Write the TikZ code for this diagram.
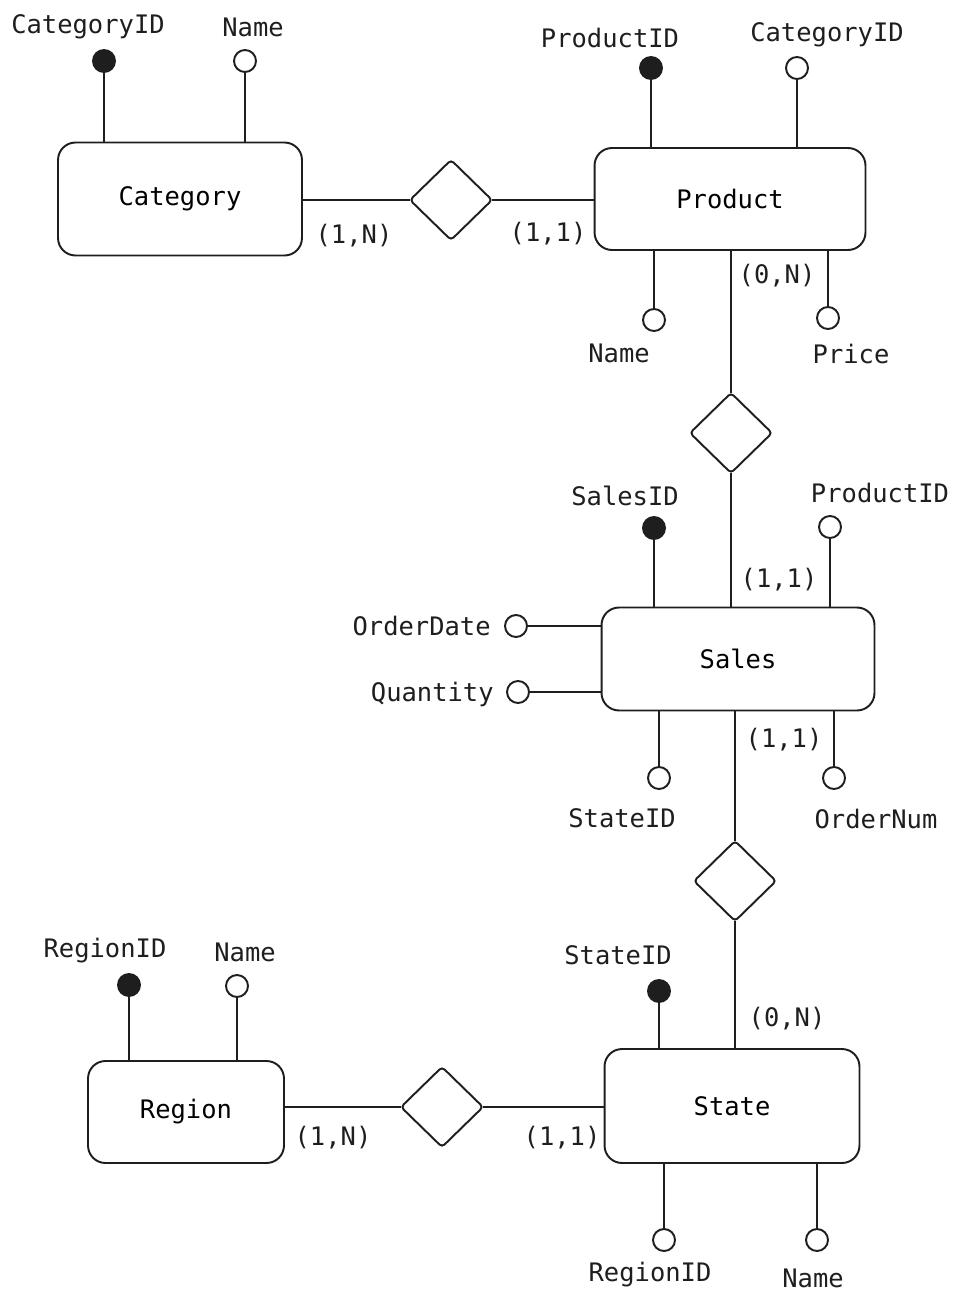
\documentclass[tikz,border=0pt]{standalone}
\usepackage{fontspec}
\setmainfont{DejaVu Sans Mono}
\usetikzlibrary{shapes.geometric}
\definecolor{ink}{HTML}{1E1E1E}

\tikzset{
  entity/.style={draw=ink, line width=1.1pt, rounded corners=0.35cm, inner sep=0pt, outer sep=0pt},
  relation/.style={diamond, draw=ink, line width=1.1pt, rounded corners=2pt, minimum width=1.64cm, minimum height=1.6cm, inner sep=0pt, outer sep=0pt},
  keyattr/.style={circle, draw=ink, fill=ink, line width=1.1pt, minimum size=0.44cm, inner sep=0pt, outer sep=0pt},
  attr/.style={circle, draw=ink, fill=white, line width=1.1pt, minimum size=0.44cm, inner sep=0pt, outer sep=0pt},
  lbl/.style={text=ink, inner sep=0pt},
  link/.style={draw=ink, line width=1.1pt},
}

\begin{document}
\begin{tikzpicture}[x=0.02cm, y=-0.02cm, font=\fontsize{14.5}{17}\selectfont]
  \useasboundingbox (0,0) rectangle (960,1307);

  % Entities
  \node[entity, minimum width=4.88cm, minimum height=2.26cm] (cat) at (180,199) {Category};
  \node[entity, minimum width=5.42cm, minimum height=2.04cm] (prod) at (730,199) {Product};
  \node[entity, minimum width=5.46cm, minimum height=2.06cm] (sales) at (738,659) {Sales};
  \node[entity, minimum width=5.10cm, minimum height=2.28cm] (state) at (732,1106) {State};
  \node[entity, minimum width=3.92cm, minimum height=2.04cm] (region) at (186,1112) {Region};

  % Relationships
  \node[relation] (catprod) at (451,200) {};
  \node[relation] (prodsales) at (731,433) {};
  \node[relation] (salesstate) at (735,881) {};
  \node[relation] (regionstate) at (442,1107) {};

  % Connectors with cardinalities
  \draw[link] (catprod.west) -- (catprod.west -| cat.east);
  \draw[link] (catprod.east) -- (catprod.east -| prod.west);
  \draw[link] (prodsales.north) -- (prodsales.north |- prod.south);
  \draw[link] (prodsales.south) -- (prodsales.south |- sales.north);
  \draw[link] (salesstate.north) -- (salesstate.north |- sales.south);
  \draw[link] (salesstate.south) -- (salesstate.south |- state.north);
  \draw[link] (regionstate.west) -- (regionstate.west -| region.east);
  \draw[link] (regionstate.east) -- (regionstate.east -| state.west);

  \node[lbl] (c1) at (354,236) {(1,N)};
  \node[lbl] (c2) at (548,234) {(1,1)};
  \node[lbl] (c3) at (777,276) {(0,N)};
  \node[lbl] (c4) at (779,580) {(1,1)};
  \node[lbl] (c5) at (784,740) {(1,1)};
  \node[lbl] (c6) at (787,1019) {(0,N)};
  \node[lbl] (c7) at (333,1138) {(1,N)};
  \node[lbl] (c8) at (562,1138) {(1,1)};

  % Category attributes
  \node[keyattr] (catid) at (104,61) {};
  \node[attr] (catname) at (245,61) {};
  \draw[link] (catid.south) -- (catid.south |- cat.north);
  \draw[link] (catname.south) -- (catname.south |- cat.north);
  \node[lbl] (catidl) at (88,27) {CategoryID};
  \node[lbl] (catnamel) at (253,27) {Name};

  % Product attributes
  \node[keyattr] (prodid) at (651,68) {};
  \node[attr] (prodcat) at (797,68) {};
  \node[attr] (prodname) at (654,320) {};
  \node[attr] (prodprice) at (828,318) {};
  \draw[link] (prodid.south) -- (prodid.south |- prod.north);
  \draw[link] (prodcat.south) -- (prodcat.south |- prod.north);
  \draw[link] (prodname.north) -- (prodname.north |- prod.south);
  \draw[link] (prodprice.north) -- (prodprice.north |- prod.south);
  \node[lbl] (prodidl) at (610,38) {ProductID};
  \node[lbl] (prodcatl) at (827,35) {CategoryID};
  \node[lbl] (prodnamel) at (619,353) {Name};
  \node[lbl] (prodpricel) at (851,354) {Price};

  % Sales attributes
  \node[keyattr] (salesid) at (654,528) {};
  \node[attr] (salesprod) at (830,527) {};
  \node[attr] (salesdate) at (516,626) {};
  \node[attr] (salesqty) at (518,692) {};
  \node[attr] (salesstid) at (659,778) {};
  \node[attr] (salesnum) at (834,778) {};
  \draw[link] (salesid.south) -- (salesid.south |- sales.north);
  \draw[link] (salesprod.south) -- (salesprod.south |- sales.north);
  \draw[link] (salesdate.east) -- (salesdate.east -| sales.west);
  \draw[link] (salesqty.east) -- (salesqty.east -| sales.west);
  \draw[link] (salesstid.north) -- (salesstid.north |- sales.south);
  \draw[link] (salesnum.north) -- (salesnum.north |- sales.south);
  \node[lbl] (salesidl) at (625,496) {SalesID};
  \node[lbl] (salesprodl) at (880,493) {ProductID};
  \node[lbl, anchor=east] (salesdatel) at (491,626) {OrderDate};
  \node[lbl, anchor=east] (salesqtyl) at (494,694) {Quantity};
  \node[lbl] (salesstidl) at (622,818) {StateID};
  \node[lbl] (salesnuml) at (876,819) {OrderNum};

  % State attributes
  \node[keyattr] (stateid) at (659,991) {};
  \node[attr] (statereg) at (664,1240) {};
  \node[attr] (statename) at (817,1240) {};
  \draw[link] (stateid.south) -- (stateid.south |- state.north);
  \draw[link] (statereg.north) -- (statereg.north |- state.south);
  \draw[link] (statename.north) -- (statename.north |- state.south);
  \node[lbl] (stateidl) at (618,955) {StateID};
  \node[lbl] (stateregl) at (650,1275) {RegionID};
  \node[lbl] (statenamel) at (813,1278) {Name};

  % Region attributes
  \node[keyattr] (regid) at (129,985) {};
  \node[attr] (regname) at (237,986) {};
  \draw[link] (regid.south) -- (regid.south |- region.north);
  \draw[link] (regname.south) -- (regname.south |- region.north);
  \node[lbl] (regidl) at (105,951) {RegionID};
  \node[lbl] (regnamel) at (245,952) {Name};
\end{tikzpicture}
\end{document}
